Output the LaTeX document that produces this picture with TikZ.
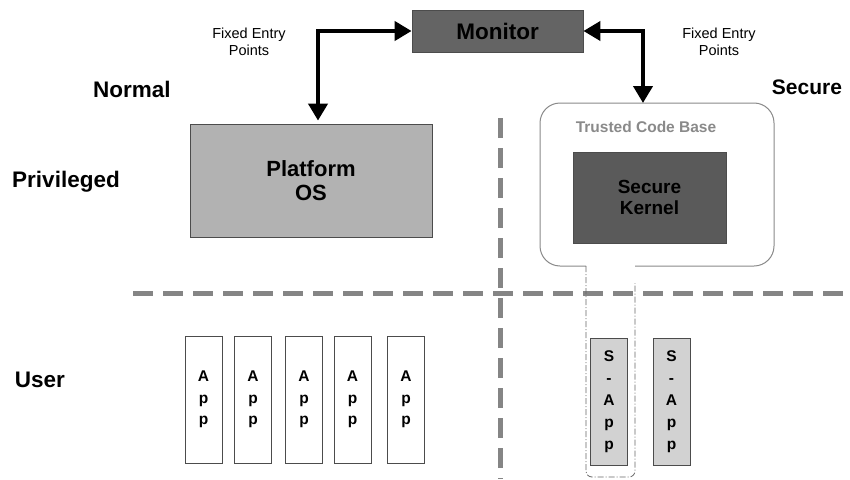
\documentclass[tikz,border=0pt]{standalone}
\usepackage{fontspec}
\setmainfont{Liberation Sans}
\usetikzlibrary{arrows.meta,calc}
\definecolor{monfill}{HTML}{646464}
\definecolor{kernfill}{HTML}{5A5A5A}
\definecolor{osfill}{HTML}{B2B2B2}
\definecolor{sappfill}{HTML}{D2D2D2}
\definecolor{divider}{HTML}{858585}
\definecolor{tcbline}{HTML}{8A8A8A}
\newcommand{\fsz}[1]{\fontsize{#1}{#1}\selectfont}
\tikzset{
  box/.style={draw=black!70, line width=0.8pt, inner sep=0pt},
  lbl/.style={font=\fsz{22.5}\bfseries},
  note/.style={font=\fsz{14.5}, align=center},
  biarrow/.style={line width=4pt, {Triangle[length=17pt,width=19pt]}-{Triangle[length=17pt,width=19pt]}},
  divline/.style={draw=divider, line width=5pt, dash pattern=on 20pt off 10pt},
  appbox/.style={box, fill=white, minimum width=37pt, minimum height=127pt, font=\fsz{15.5}\bfseries, align=center},
  sappbox/.style={appbox, fill=sappfill},
}
\begin{document}
\begin{tikzpicture}[x=1pt,y=-1pt]
\useasboundingbox[fill=white] (0,0) rectangle (850,479);

% privilege / world dividers
\draw[divline] (133,293) -- (850,293);
\draw[divline] (500,118) -- (500,479);

% row and column labels
\node[lbl] (normal) at (132,89) {Normal};
\node[lbl, font=\fsz{21}\bfseries] (secure) at (807,87) {Secure};
\node[lbl] (priv) at (66,182) {Privileged};
\node[lbl] (user) at (40,380) {User};
\node[note] (fepl) at (249,42) {Fixed Entry\\[3pt]Points};
\node[note] (fepr) at (719,42) {Fixed Entry\\[3pt]Points};

% monitor and platform OS
\node[box, fill=monfill, minimum width=171pt, minimum height=42pt, font=\fsz{22.5}\bfseries] (mon) at (497.5,31) {Monitor};
\node[box, fill=osfill, minimum width=242pt, minimum height=113pt, font=\fsz{22}\bfseries, align=center] (os) at (311,180.5) {Platform\\[2pt]OS};

% trusted code base outline, open at the bottom
\draw[tcbline, line width=1pt, rounded corners=20pt]
  (586,266) -- (540,266) -- (540,103) -- (774,103) -- (774,266) -- (635,266);
\coordinate (tcbtop) at (643,103);
\node[font=\fsz{15.5}\bfseries, text=tcbline] (tcb) at (646,127) {Trusted Code Base};
\node[box, fill=kernfill, minimum width=153pt, minimum height=91pt, font=\fsz{19}\bfseries, align=center] (kern) at (649.5,197.5) {Secure\\[2pt]Kernel};

% entry arrows
\draw[biarrow] (mon.west) -| ([xshift=7pt,yshift=3pt]os.north);
\draw[biarrow] (mon.east) -| (tcbtop);

% normal-world applications
\foreach \n/\x in {1/203.5, 2/253, 3/304, 4/352.5, 5/406} {
  \node[appbox] (app\n) at (\x,399.5) {A\\[6pt]p\\[6pt]p};
}

% secure-world applications
\node[sappbox] (sapp1) at (609,401.5) {S\\[6.5pt]-\\[6.5pt]A\\[6.5pt]p\\[6.5pt]p};
\node[sappbox] (sapp2) at (671.5,401.5) {S\\[6.5pt]-\\[6.5pt]A\\[6.5pt]p\\[6.5pt]p};

% extension of the trusted code base around the first secure app
\draw[black!60, line width=0.8pt, dash pattern=on 6pt off 2pt on 1pt off 2pt, rounded corners=6pt]
  (586,266) -- (586,477) -- (635,477) -- (635,283);
\end{tikzpicture}
\end{document}
